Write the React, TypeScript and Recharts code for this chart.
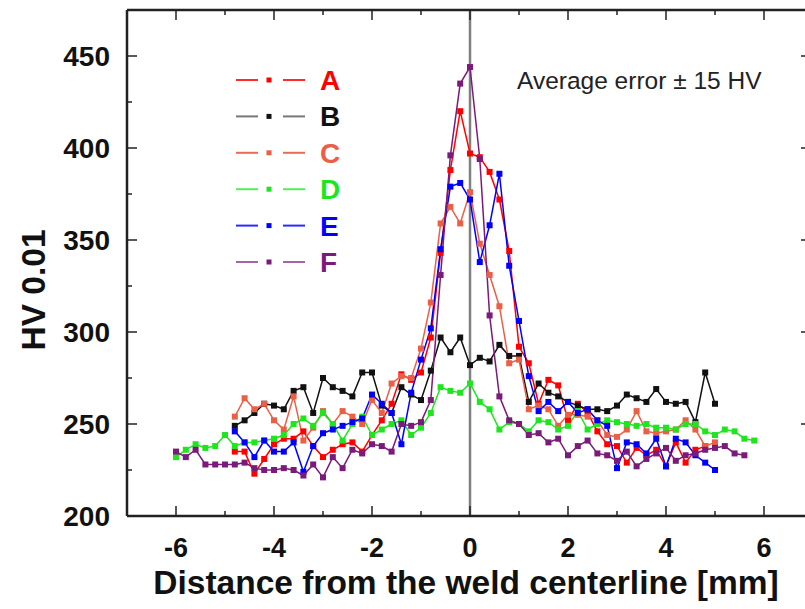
import React from 'react';
import { LineChart, Line, XAxis, YAxis, ReferenceLine, Legend } from 'recharts';

const FONT = '"Liberation Sans", Arial, Helvetica, sans-serif';

// distance from the weld centerline [mm]
const xPos = [
  -6.0, -5.8, -5.6, -5.4, -5.2, -5.0, -4.8, -4.6, -4.4, -4.2,
  -4.0, -3.8, -3.6, -3.4, -3.2, -3.0, -2.8, -2.6, -2.4, -2.2,
  -2.0, -1.8, -1.6, -1.4, -1.2, -1.0, -0.8, -0.6, -0.4, -0.2,
  0, 0.2, 0.4, 0.6, 0.8, 1.0, 1.2, 1.4, 1.6, 1.8,
  2.0, 2.2, 2.4, 2.6, 2.8, 3.0, 3.2, 3.4, 3.6, 3.8,
  4.0, 4.2, 4.4, 4.6, 4.8, 5.0, 5.2, 5.4, 5.6, 5.8,
];

// HV 0.01 per sample, null where not measured
const hvA = [
  null, null, null, null, null, null,
  235, 235, 223, 231, 239, 242, 242, 246, 238, 232, 236, 239, 240, 235, 244,
  252, 261, 277, 274, 278, 297, 343, 388, 420, 397,
  395, 387, 372, 344, 292, 283, 261, 274, 271, 252,
  261, 256, 246, 239, 238, 229, 237, 233, 236, 227,
  240, 229, 236, 238,
  null, null, null, null, null,
];
const hvB = [
  null, null, null, null, null, null,
  249, 252, 256, 261, 260, 258, 268, 270, 256, 275, 270, 268, 265, 278, 278,
  260, 256, 270, 266, 263, 279, 297, 289, 297, 282,
  286, 284, 293, 287, 287, 262, 272, 267, 265, 262,
  260, 258, 258, 257, 260, 266, 264, 262, 269, 262,
  261, 262, 251, 278, 261,
  null, null, null, null,
];
const hvC = [
  null, null, null, null, null, null,
  254, 264, 258, 261, 252, 247, 265, 241, 248, 257, 250, 257, 254, 250, 263,
  256, 272, 276, 275, 291, 316, 359, 368, 359, 376,
  348, 331, 314, 283, 285, 258, 260, 258, 249, 255,
  255, 254, 252, 244, 243, 247, 257, 246, 245, 246,
  247, 252, 247, 238, 240,
  null, null, null, null,
];
const hvD = [
  232, 236, 239, 237, 238, 244, 238, 240, 240, 241,
  242, 244, 250, 253, 249, 256, 250, 241, 250, 254,
  244, 247, 250, 252, 244, 248, 256, 270, 268, 267,
  272, 262, 258, 247, 251, 250, 246, 252, 251, 247,
  249, 257, 247, 250, 252, 251, 250, 249, 250, 248,
  248, 247, 250, 250, 246, 244, 247, 246, 242, 241,
];
const hvE = [
  null, null, null, null, null, null,
  246, 240, 232, 241, 235, 235, 240, 224, 238, 245, 247, 249, 251, 253, 266,
  261, 256, 239, 267, 285, 302, 345, 379, 381, 372,
  338, 358, 386, 336, 306, 276, 257, 262, 257, 262,
  256, 258, 252, 249, 226, 240, 239, 234, 242, 227,
  242, 240, 233, 229, 225,
  null, null, null, null,
];
const hvF = [
  235, 232, 236, 228, 228, 228, 228, 229, 226, 225,
  225, 226, 225, 222, 228, 221, 232, 226, 236, 234,
  239, 238, 235, 250, 249, 251, 263, 331, 396, 435,
  444, 394, 309, 265, 252, 250, 244, 245, 240, 242,
  233, 238, 241, 234, 233, 230, 235, 227, 231, 234,
  237, 230, 233, 234, 236, 237, 238, 234, 233,
  null,
];

const xTicks = [-6, -5, -4, -3, -2, -1, 0, 1, 2, 3, 4, 5, 6];
const yTicks = [200, 225, 250, 275, 300, 325, 350, 375, 400, 425, 450];
const X_MIN = -7;
const X_MAX = 7;
const Y_MIN = 200;
const Y_MAX = 475;

const CHART_W = 820;
const CHART_H = 609;
const MARGIN = { top: 10, right: 7, bottom: 0, left: 0 };
const Y_AXIS_W = 127;
const X_AXIS_H = 93;

// plot box, from the chart layout above
const PLOT_LEFT = MARGIN.left + Y_AXIS_W;
const PLOT_RIGHT = CHART_W - MARGIN.right;
const PLOT_TOP = MARGIN.top;
const PLOT_BOTTOM = CHART_H - MARGIN.bottom - X_AXIS_H;

const series = [
  { key: 'A', values: hvA, color: '#ff0000', legendLine: '#ff2a2a' },
  { key: 'B', values: hvB, color: '#111111', legendLine: '#777777' },
  { key: 'C', values: hvC, color: '#ea5f45', legendLine: '#ea6a52' },
  { key: 'D', values: hvD, color: '#1ee61e', legendLine: '#55ee55' },
  { key: 'E', values: hvE, color: '#0000ff', legendLine: '#2a2aff' },
  { key: 'F', values: hvF, color: '#7a1a7a', legendLine: '#a465a4' },
];

const rows = xPos.map((x, i) => {
  const row: Record<string, number | null> = { x };
  series.forEach((s) => {
    row[s.key] = s.values[i];
  });
  return row;
});

const squareDot = (color: string) => (props: any) => {
  const { cx, cy, index, value } = props;
  if (value == null || cx == null || cy == null) return <g key={`d-${index}`} />;
  return <rect key={`d-${index}`} x={cx - 3} y={cy - 3} width={6} height={6} fill={color} />;
};

const BottomTick = (props: any) => {
  const { x, y, payload } = props;
  const major = payload.value % 2 === 0;
  return (
    <g>
      <line x1={x} x2={x} y1={y} y2={y - (major ? 10 : 5)} stroke="#222" strokeWidth={1.5} />
      {major && (
        <text x={x} y={y + 41} textAnchor="middle" fontSize={27} fontWeight="bold" fontFamily={FONT} fill="#111">
          {payload.value}
        </text>
      )}
    </g>
  );
};

const LeftTick = (props: any) => {
  const { x, y, payload } = props;
  const major = payload.value % 50 === 0;
  return (
    <g>
      <line x1={x} x2={x + (major ? 10 : 5)} y1={y} y2={y} stroke="#222" strokeWidth={1.5} />
      {major && (
        <text x={x - 17} y={y + 9.5} textAnchor="end" fontSize={28} fontWeight="bold" fontFamily={FONT} fill="#111">
          {payload.value}
        </text>
      )}
    </g>
  );
};

const LegendBox = (props: any) => {
  const { payload } = props;
  return (
    <svg width={130} height={220}>
      {(payload || []).map((entry: any, i: number) => {
        const s = series.find((item) => item.key === entry.dataKey) || series[i];
        const cy = 14 + i * 36.4;
        return (
          <g key={s.key}>
            <line x1={0} x2={22} y1={cy} y2={cy} stroke={s.legendLine} strokeWidth={2} />
            <rect x={30.5} y={cy - 2.5} width={5} height={5} fill={s.color} />
            <line x1={47} x2={69} y1={cy} y2={cy} stroke={s.legendLine} strokeWidth={2} />
            <text x={84} y={cy + 10} fontSize={28} fontWeight="bold" fontFamily={FONT} fill={s.color}>
              {s.key}
            </text>
          </g>
        );
      })}
    </svg>
  );
};

const px = (t: number) => PLOT_LEFT + ((t - X_MIN) / (X_MAX - X_MIN)) * (PLOT_RIGHT - PLOT_LEFT);
const py = (v: number) => PLOT_TOP + (1 - (v - Y_MIN) / (Y_MAX - Y_MIN)) * (PLOT_BOTTOM - PLOT_TOP);

// x-axis title plus the top frame edge with its inward ticks
const xTitle = () => (
  <g>
    <line x1={PLOT_LEFT} x2={PLOT_RIGHT} y1={PLOT_TOP} y2={PLOT_TOP} stroke="#222" strokeWidth={2.5} />
    {xTicks.map((t) => (
      <line
        key={`top-${t}`}
        x1={px(t)}
        x2={px(t)}
        y1={PLOT_TOP}
        y2={PLOT_TOP + (t % 2 === 0 ? 10 : 5)}
        stroke="#222"
        strokeWidth={1.5}
      />
    ))}
    <text x={466} y={594} textAnchor="middle" fontSize={33.5} fontWeight="bold" fontFamily={FONT} fill="#111">
      Distance from the weld centerline [mm]
    </text>
  </g>
);

// y-axis title plus the right frame edge with its inward ticks
const yTitle = () => (
  <g>
    <line x1={PLOT_RIGHT} x2={PLOT_RIGHT} y1={PLOT_TOP} y2={PLOT_BOTTOM} stroke="#222" strokeWidth={2.5} />
    {yTicks.map((v) => (
      <line
        key={`right-${v}`}
        x1={PLOT_RIGHT}
        x2={PLOT_RIGHT - (v % 50 === 0 ? 12 : 6)}
        y1={py(v)}
        y2={py(v)}
        stroke="#222"
        strokeWidth={1.5}
      />
    ))}
    <text transform="translate(45,290) rotate(-90)" textAnchor="middle" fontSize={33.5} fontWeight="bold" fontFamily={FONT} fill="#111">
      HV 0.01
    </text>
  </g>
);

const note = () => (
  <text x={517} y={89} fontSize={24.5} fontFamily={FONT} fill="#222">
    Average error ± 15 HV
  </text>
);

const App = () => {
  return (
    <div
      style={{
        position: 'absolute',
        left: 0,
        top: 0,
        width: 805,
        height: 609,
        overflow: 'hidden',
        background: '#fff',
        fontFamily: FONT,
      }}
    >
      <LineChart width={CHART_W} height={CHART_H} data={rows} margin={MARGIN}>
        <XAxis
          type="number"
          dataKey="x"
          domain={[X_MIN, X_MAX]}
          ticks={xTicks}
          interval={0}
          allowDataOverflow
          height={X_AXIS_H}
          tickSize={0}
          tickMargin={0}
          tickLine={false}
          tick={<BottomTick />}
          axisLine={{ stroke: '#222', strokeWidth: 2.5 }}
          label={xTitle}
        />
        <YAxis
          type="number"
          domain={[Y_MIN, Y_MAX]}
          ticks={yTicks}
          interval={0}
          allowDataOverflow
          width={Y_AXIS_W}
          tickSize={0}
          tickMargin={0}
          tickLine={false}
          tick={<LeftTick />}
          axisLine={{ stroke: '#222', strokeWidth: 2.5 }}
          label={yTitle}
        />
        <ReferenceLine x={0} stroke="#808080" strokeWidth={2.5} label={note} />
        <Legend
          layout="vertical"
          align="center"
          verticalAlign="middle"
          content={<LegendBox />}
          wrapperStyle={{ position: 'absolute', left: 236, top: 66, width: 130, height: 220 }}
        />
        {series.map((s) => (
          <Line
            key={s.key}
            type="linear"
            dataKey={s.key}
            name={s.key}
            stroke={s.color}
            strokeWidth={1.5}
            dot={squareDot(s.color)}
            activeDot={false}
            connectNulls={false}
            isAnimationActive={false}
          />
        ))}
      </LineChart>
    </div>
  );
};

export default App;
